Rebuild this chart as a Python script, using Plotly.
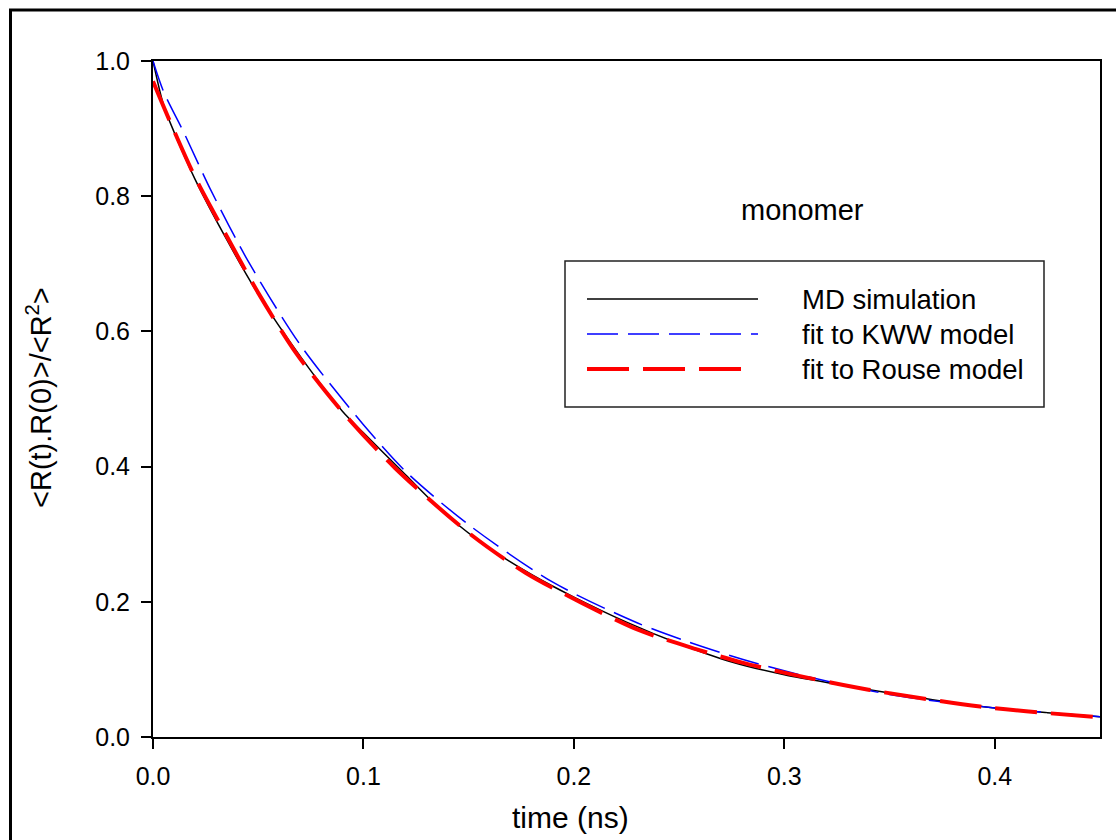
import plotly.graph_objects as go

# ---- data ----
md_t = [0.000, 0.005, 0.010, 0.020, 0.035, 0.050, 0.070, 0.090, 0.100, 0.120, 0.140,
        0.160, 0.180, 0.200, 0.225, 0.250, 0.275, 0.300, 0.325, 0.350, 0.375, 0.400,
        0.425, 0.450]
md_v = [1.000, 0.935, 0.895, 0.825, 0.736, 0.655, 0.563, 0.482, 0.450, 0.388, 0.327,
        0.279, 0.240, 0.207, 0.170, 0.138, 0.111, 0.092, 0.078, 0.065, 0.053, 0.043,
        0.036, 0.030]

kww_t = [0.000, 0.005, 0.015, 0.027, 0.045, 0.070, 0.100, 0.120, 0.150, 0.190, 0.230,
         0.255, 0.280, 0.310, 0.350, 0.400, 0.450]
kww_v = [1.000, 0.955, 0.892, 0.812, 0.705, 0.580, 0.462, 0.393, 0.314, 0.229, 0.169,
         0.140, 0.115, 0.090, 0.063, 0.043, 0.030]

rouse_t = [0.000, 0.008, 0.020, 0.035, 0.050, 0.068, 0.090, 0.115, 0.150, 0.177, 0.204,
           0.231, 0.258, 0.280, 0.303, 0.340, 0.393, 0.450]
rouse_v = [0.970, 0.911, 0.828, 0.741, 0.657, 0.568, 0.481, 0.398, 0.302, 0.243, 0.198,
           0.158, 0.130, 0.110, 0.093, 0.070, 0.045, 0.029]

series_names = ["MD simulation", "fit to KWW model", "fit to Rouse model"]
x_ticks = [0.0, 0.1, 0.2, 0.3, 0.4]
y_ticks = [0.0, 0.2, 0.4, 0.6, 0.8, 1.0]
x_title = "time (ns)"
y_title = "<R(t).R(0)>/<R<sup>2</sup>>"
panel_label = "monomer"

# ---- layout geometry (pixels) ----
W, H = 1116, 840
L, R, T, B = 153, 1100, 61, 737
FONT = "Liberation Sans, Arial, sans-serif"

def px_x(p):
    return (p - L) / (R - L)

def px_y(p):
    return (B - p) / (B - T)

styles = [
    dict(color="black", width=1.5, dash="solid"),
    dict(color="#0000ff", width=1.5, dash="31px,10px"),
    dict(color="#ff0000", width=4, dash="42px,14px"),
]

fig = go.Figure()
for (t, v), name, st in zip([(md_t, md_v), (kww_t, kww_v), (rouse_t, rouse_v)],
                            series_names, styles):
    fig.add_trace(go.Scatter(x=t, y=v, mode="lines", name=name,
                             line=dict(color=st["color"], width=st["width"],
                                       dash=st["dash"], shape="spline", smoothing=0.8),
                             showlegend=False))

shapes = []
# outer frame (partly cropped in reference)
shapes.append(dict(type="rect", xref="paper", yref="paper",
                   x0=px_x(10.5), x1=px_x(1130), y0=px_y(860), y1=px_y(10),
                   line=dict(color="black", width=3), layer="above"))
# legend box
shapes.append(dict(type="rect", xref="paper", yref="paper",
                   x0=px_x(565), x1=px_x(1044), y0=px_y(407), y1=px_y(261),
                   line=dict(color="#222", width=1.5), fillcolor="white", layer="above"))
leg_y = [299, 334, 369]
leg_x1 = [758, 758, 742]
for st, yy, x1 in zip(styles, leg_y, leg_x1):
    shapes.append(dict(type="line", xref="paper", yref="paper",
                       x0=px_x(587), x1=px_x(x1), y0=px_y(yy), y1=px_y(yy),
                       line=dict(color=st["color"], width=st["width"], dash=st["dash"]),
                       layer="above"))

annotations = []
for name, yy in zip(series_names, leg_y):
    annotations.append(dict(text=name, xref="paper", yref="paper",
                            x=px_x(800), y=px_y(yy), xanchor="left", yanchor="middle",
                            showarrow=False, font=dict(size=27.5, color="black", family=FONT)))
annotations.append(dict(text=panel_label, xref="paper", yref="paper",
                        x=px_x(802), y=px_y(210), xanchor="center", yanchor="middle",
                        showarrow=False, font=dict(size=29, color="black", family=FONT)))
annotations.append(dict(text=y_title, xref="paper", yref="paper",
                        x=px_x(39), y=px_y(398), xanchor="center", yanchor="middle",
                        textangle=-90, showarrow=False,
                        font=dict(size=29, color="black", family=FONT)))
annotations.append(dict(text=x_title, xref="paper", yref="paper",
                        x=px_x(570), y=px_y(817), xanchor="center", yanchor="middle",
                        showarrow=False, font=dict(size=30, color="black", family=FONT)))

fig.update_layout(
    width=W, height=H,
    margin=dict(l=L, r=W - R, t=T, b=H - B, pad=0),
    paper_bgcolor="white", plot_bgcolor="white",
    font=dict(family=FONT, size=25, color="black"),
    shapes=shapes, annotations=annotations,
    showlegend=False,
)
fig.update_xaxes(range=[0, 0.45], tickmode="array", tickvals=x_ticks,
                 ticktext=[f"{v:.1f}" for v in x_ticks],
                 ticks="outside", ticklen=10, tickwidth=2, tickcolor="black",
                 showline=True, linecolor="black", linewidth=2, mirror=True,
                 showgrid=False, zeroline=False, ticklabelstandoff=6,
                 tickfont=dict(size=25))
fig.update_yaxes(range=[0, 1.0], tickmode="array", tickvals=y_ticks,
                 ticktext=[f"{v:.1f}" for v in y_ticks],
                 ticks="outside", ticklen=10, tickwidth=2, tickcolor="black",
                 showline=True, linecolor="black", linewidth=2, mirror=True,
                 showgrid=False, zeroline=False, ticklabelstandoff=6,
                 tickfont=dict(size=25))

fig.write_html("out.html")
